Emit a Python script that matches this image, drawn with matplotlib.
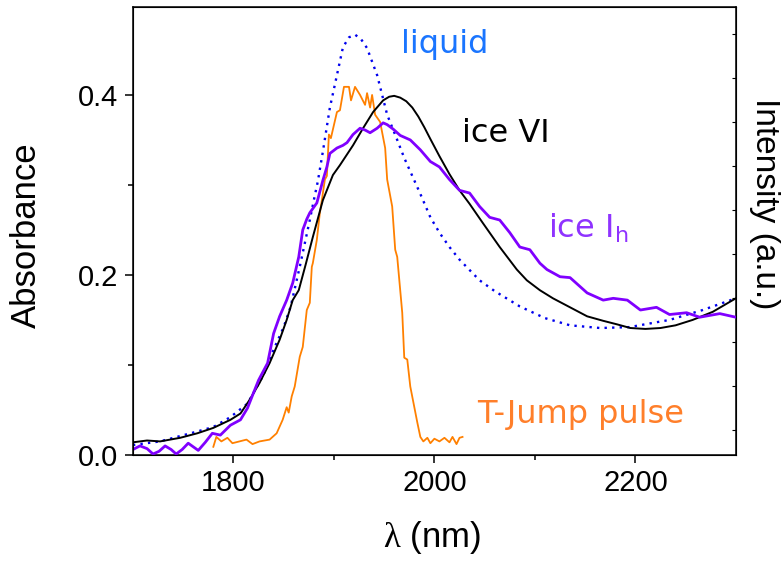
import numpy as np
import matplotlib
matplotlib.use('Agg')
import matplotlib.pyplot as plt

#=========================================================================
# Values (wavelength in nm, absorbance / scaled intensity)

liquid_wl = [1700, 1727, 1764, 1780, 1797, 1814, 1830, 1840, 1850, 1857, 1866, 1876,
             1880, 1884, 1889, 1896, 1903, 1909, 1915, 1921, 1927, 1933, 1943, 1953,
             1963, 1970, 1976, 1986, 1996, 2005, 2015, 2025, 2038, 2045, 2060, 2085,
             2110, 2135, 2165, 2194, 2234, 2267, 2300]
liquid_abs = [0.011, 0.015, 0.026, 0.031, 0.042, 0.057, 0.089, 0.117, 0.142, 0.165, 0.209, 0.261,
              0.283, 0.304, 0.337, 0.386, 0.422, 0.453, 0.464, 0.467, 0.462, 0.452, 0.422, 0.378,
              0.350, 0.330, 0.315, 0.290, 0.264, 0.247, 0.231, 0.217, 0.202, 0.194, 0.182, 0.165,
              0.152, 0.144, 0.141, 0.142, 0.150, 0.161, 0.174]

ice6_wl = [1700, 1714, 1727, 1747, 1764, 1780, 1797, 1807, 1816, 1826, 1836, 1846,
           1853, 1859, 1865, 1872, 1879, 1889, 1899, 1906, 1919, 1929, 1939, 1949,
           1955, 1960, 1966, 1972, 1978, 1984, 1990, 1996, 2005, 2015, 2025, 2035,
           2048, 2065, 2082, 2092, 2105, 2118, 2135, 2152, 2168, 2182, 2195, 2210,
           2225, 2240, 2257, 2277, 2300]
ice6_abs = [0.014, 0.016, 0.015, 0.019, 0.024, 0.030, 0.039, 0.046, 0.061, 0.080, 0.102, 0.128,
            0.150, 0.172, 0.183, 0.212, 0.242, 0.283, 0.311, 0.322, 0.344, 0.363, 0.381, 0.394,
            0.398, 0.399, 0.397, 0.393, 0.386, 0.376, 0.364, 0.351, 0.332, 0.312, 0.294, 0.279,
            0.258, 0.231, 0.206, 0.194, 0.183, 0.174, 0.164, 0.154, 0.149, 0.145, 0.141, 0.140,
            0.141, 0.144, 0.150, 0.159, 0.174]

ice1h_wl = [1700, 1707, 1714, 1720, 1726, 1732, 1738, 1743, 1749, 1755, 1760, 1765,
            1772, 1779, 1787, 1797, 1807, 1814, 1820, 1825, 1834, 1840, 1846, 1853,
            1859, 1865, 1869, 1873, 1876, 1883, 1889, 1893, 1896, 1903, 1909, 1913,
            1919, 1926, 1931, 1936, 1943, 1949, 1953, 1959, 1966, 1976, 1986, 1996,
            2005, 2015, 2025, 2035, 2045, 2055, 2065, 2075, 2085, 2095, 2105, 2112,
            2125, 2135, 2152, 2168, 2178, 2192, 2205, 2221, 2234, 2251, 2264, 2284, 2300]
ice1h_abs = [0.006, 0.010, 0.007, 0.001, 0.004, 0.010, 0.006, 0.001, 0.006, 0.013, 0.009, 0.005,
             0.014, 0.024, 0.022, 0.033, 0.039, 0.052, 0.069, 0.083, 0.102, 0.135, 0.154, 0.172,
             0.191, 0.220, 0.250, 0.262, 0.269, 0.280, 0.305, 0.320, 0.335, 0.341, 0.344, 0.347,
             0.356, 0.363, 0.361, 0.358, 0.363, 0.369, 0.367, 0.362, 0.355, 0.350, 0.339, 0.326,
             0.320, 0.306, 0.294, 0.291, 0.276, 0.264, 0.261, 0.247, 0.231, 0.228, 0.213, 0.206,
             0.198, 0.197, 0.180, 0.172, 0.174, 0.172, 0.161, 0.164, 0.156, 0.158, 0.153, 0.157, 0.153]

pulse_wl = [1780, 1783, 1788, 1794, 1799, 1806, 1813, 1819, 1826, 1836, 1843, 1849,
            1853, 1855, 1858, 1861, 1866, 1869, 1873, 1876, 1878, 1879, 1883, 1886,
            1888, 1891, 1893, 1895, 1897, 1903, 1906, 1910, 1915, 1917, 1921, 1926,
            1931, 1933, 1936, 1938, 1941, 1946, 1951, 1953, 1958, 1961, 1963, 1968,
            1970, 1973, 1976, 1983, 1986, 1989, 1993, 1996, 2000, 2005, 2010, 2015,
            2018, 2022, 2025, 2028]
pulse_int = [0.009, 0.020, 0.015, 0.019, 0.013, 0.015, 0.017, 0.012, 0.015, 0.017, 0.024, 0.039,
             0.053, 0.047, 0.065, 0.076, 0.109, 0.120, 0.161, 0.169, 0.209, 0.213, 0.239, 0.269,
             0.283, 0.306, 0.310, 0.356, 0.352, 0.381, 0.383, 0.409, 0.409, 0.394, 0.409, 0.400,
             0.389, 0.402, 0.386, 0.400, 0.378, 0.370, 0.341, 0.306, 0.276, 0.228, 0.220, 0.158,
             0.108, 0.106, 0.076, 0.036, 0.020, 0.015, 0.019, 0.013, 0.018, 0.015, 0.019, 0.014,
             0.020, 0.012, 0.019, 0.020]

#=========================================================================

plt.rcParams['mathtext.fontset'] = 'custom'
plt.rcParams['mathtext.rm'] = 'Liberation Serif'

fig = plt.figure(figsize=(7.82, 5.63), dpi=100)
ax = fig.add_axes([0.170, 0.192, 0.771, 0.796])

axis_font = 'Liberation Sans'
note_font = 'DejaVu Sans'

ax.plot(pulse_wl, pulse_int, color='#ff8000', lw=1.3, zorder=2)
ax.plot(liquid_wl, liquid_abs, color='#0000ee', lw=1.7, linestyle=(0, (1, 2.2)), zorder=3)
ax.plot(ice6_wl, ice6_abs, color='black', lw=1.4, zorder=4)
ax.plot(ice1h_wl, ice1h_abs, color='#8000ff', lw=2.0, zorder=5)

ax.set_xlim(1700, 2300)
ax.set_ylim(0, 0.498)
ax.set_xticks([1800, 2000, 2200])
ax.set_xticks([1900, 2100], minor=True)
ax.set_yticks([0.0, 0.2, 0.4])
ax.set_yticks([0.1, 0.3], minor=True)
ax.set_yticklabels(['0.0', '0.2', '0.4'])

ax.tick_params(which='major', direction='out', length=5.5, width=1.1,
               labelsize=21, pad=5, top=False, right=False)
ax.tick_params(which='minor', direction='out', length=3.5, width=1.1, top=False, right=False)
for lab in ax.get_xticklabels() + ax.get_yticklabels():
    lab.set_fontfamily(axis_font)
for sp in ax.spines.values():
    sp.set_linewidth(1.1)

# right axis only carries small inward ticks
ax2 = ax.twinx()
ax2.set_ylim(-0.57, 9.61)
ax2.set_yticks(range(10))
ax2.set_yticklabels([])
ax2.tick_params(direction='in', length=3, width=0.8)

ax.set_ylabel('Absorbance', fontsize=25, family=axis_font, va='center')
ax.yaxis.set_label_coords(-0.176, 0.49)
ax.set_xlabel('$\\mathrm{\\lambda}$ (nm)', fontsize=25, family=axis_font, va='center')
ax.xaxis.set_label_coords(0.496, -0.185)
ax.text(1.048, 0.56, 'Intensity (a.u.)', transform=ax.transAxes, rotation=-90,
        ha='center', va='center', fontsize=24, family=axis_font)

# curve names
ax.text(2010, 0.447, 'liquid', color='#1a75ff', fontsize=23, family=note_font,
        ha='center', va='baseline')
ax.text(2027, 0.348, 'ice VI', color='black', fontsize=23, family=note_font, va='baseline')
ax.text(2113, 0.242, 'ice I$_\\mathregular{h}$', color='#8f33ff', fontsize=23,
        family=note_font, va='baseline')
ax.text(2043, 0.036, 'T-Jump pulse', color='#ff7f2a', fontsize=23, family=note_font,
        va='baseline')

fig.savefig('out.png', dpi=100)
